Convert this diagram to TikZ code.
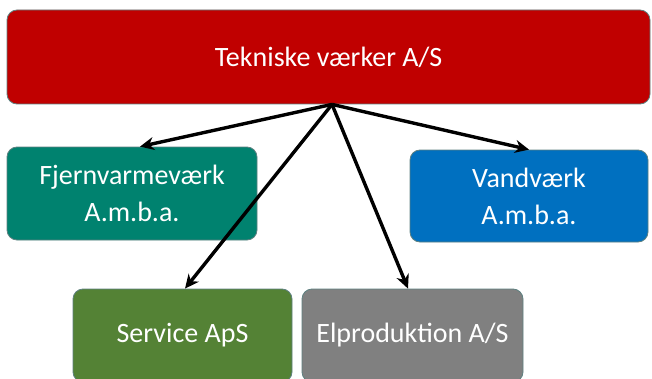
\documentclass[tikz,border=0pt]{standalone}
\usepackage{fontspec}
\setmainfont{Carlito}
\usetikzlibrary{arrows.meta,positioning}
\definecolor{tekred}{HTML}{C00000}
\definecolor{fjvgreen}{HTML}{00826F}
\definecolor{vandblue}{HTML}{0070C0}
\definecolor{servgreen}{HTML}{548235}
\definecolor{elpgray}{HTML}{808080}
\definecolor{boxline}{HTML}{5E8080}
\begin{document}
\begin{tikzpicture}[x=1pt,y=1pt,align=center]
\tikzstyle{unit}=[rectangle,rounded corners=10pt,draw=boxline,line width=0.8pt,text=white,font=\fontsize{28}{37}\selectfont,inner sep=0pt]
\tikzstyle{owns}=[-{Stealth[length=14pt,width=13pt]},line width=3.4pt]

\useasboundingbox (0,0) rectangle (652,378);
\clip (0,0) rectangle (652,378);

\node[unit,fill=tekred,minimum width=643,minimum height=94] (tek) at (328.5,321) {Tekniske værker A/S};
\node[unit,fill=fjvgreen,minimum width=250,minimum height=93] (fjv) at (132,184.5) {Fjernvarmeværk\\A.m.b.a.};
\node[unit,fill=vandblue,minimum width=238,minimum height=92] (vand) at (529,182) {Vandværk\\A.m.b.a.};
\node[unit,fill=servgreen,minimum width=219,minimum height=93] (serv) at (182.5,42.5) {Service ApS};
\node[unit,fill=elpgray,minimum width=221,minimum height=93] (elp) at (412.5,42.5) {Elproduktion A/S};

\coordinate (hub) at ([xshift=3.5pt]tek.south);
\draw[owns] (hub) -- ([xshift=8pt]fjv.north);
\draw[owns] (hub) -- (vand.north);
\draw[owns] (hub) -- ([xshift=2.5pt]serv.north);
\draw[owns] (hub) -- ([xshift=-4.5pt]elp.north);
\end{tikzpicture}
\end{document}
